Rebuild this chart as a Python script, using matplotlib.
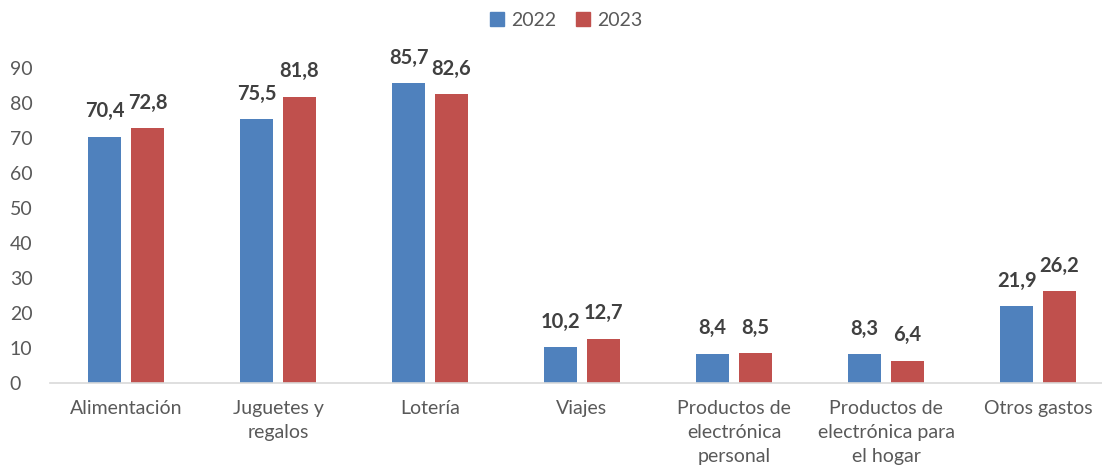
import numpy as np
import matplotlib
matplotlib.use("Agg")
import matplotlib.pyplot as plt
from matplotlib.patches import Patch

# Data
categories = ["Alimentación", "Juguetes y\nregalos", "Lotería", "Viajes",
              "Productos de\nelectrónica\npersonal",
              "Productos de\nelectrónica para\nel hogar", "Otros gastos"]
vals_2022 = [70.4, 75.5, 85.7, 10.2, 8.4, 8.3, 21.9]
vals_2023 = [72.8, 81.8, 82.6, 12.7, 8.5, 6.4, 26.2]
yticks = [0, 10, 20, 30, 40, 50, 60, 70, 80, 90]

blue = "#4F81BD"
red = "#C0504D"

plt.rcParams['font.family'] = ['Lato', 'DejaVu Sans']

fig = plt.figure(figsize=(11.02, 4.70), dpi=100)
ax = fig.add_axes([50 / 1102, 1 - 383 / 470, 1064 / 1102, 315 / 470])

x = np.arange(len(categories))
w = 0.217
off = 0.141
b1 = ax.bar(x - off, vals_2022, w, color=blue, label="2022")
b2 = ax.bar(x + off, vals_2023, w, color=red, label="2023")

def fmt(v):
    return f"{v:.1f}".replace(".", ",")

for bars, vals in ((b1, vals_2022), (b2, vals_2023)):
    for rect, v in zip(bars, vals):
        ax.annotate(fmt(v), (rect.get_x() + rect.get_width() / 2, v),
                    xytext=(0, 11), textcoords="offset points",
                    ha="center", va="bottom", fontsize=14.5, fontweight="bold",
                    color="#404040", clip_on=False)

ax.set_xlim(-0.5, len(categories) - 0.5)
ax.set_ylim(0, 90)
ax.set_yticks(yticks)
ax.set_yticklabels([str(t) for t in yticks])
ax.set_xticks(x)
ax.set_xticklabels(categories, linespacing=1.5)
ax.tick_params(axis="y", length=0, labelsize=14, labelcolor="#595959", pad=29)
ax.tick_params(axis="x", length=0, labelsize=14, labelcolor="#595959", pad=12)
for s in ("top", "right", "left"):
    ax.spines[s].set_visible(False)
ax.spines["bottom"].set_color("#D9D9D9")
ax.spines["bottom"].set_linewidth(1.2)
for lbl in ax.get_yticklabels():
    lbl.set_horizontalalignment("left")

handles = [Patch(color=blue), Patch(color=red)]
fig.legend(handles, ["2022", "2023"], loc="center", bbox_to_anchor=(0.514, 1 - 20 / 470),
           ncol=2, frameon=False, fontsize=14, labelcolor="#595959",
           handlelength=0.7, handleheight=0.7, handletextpad=0.4, columnspacing=1.0)

fig.savefig("out.png", dpi=100)
